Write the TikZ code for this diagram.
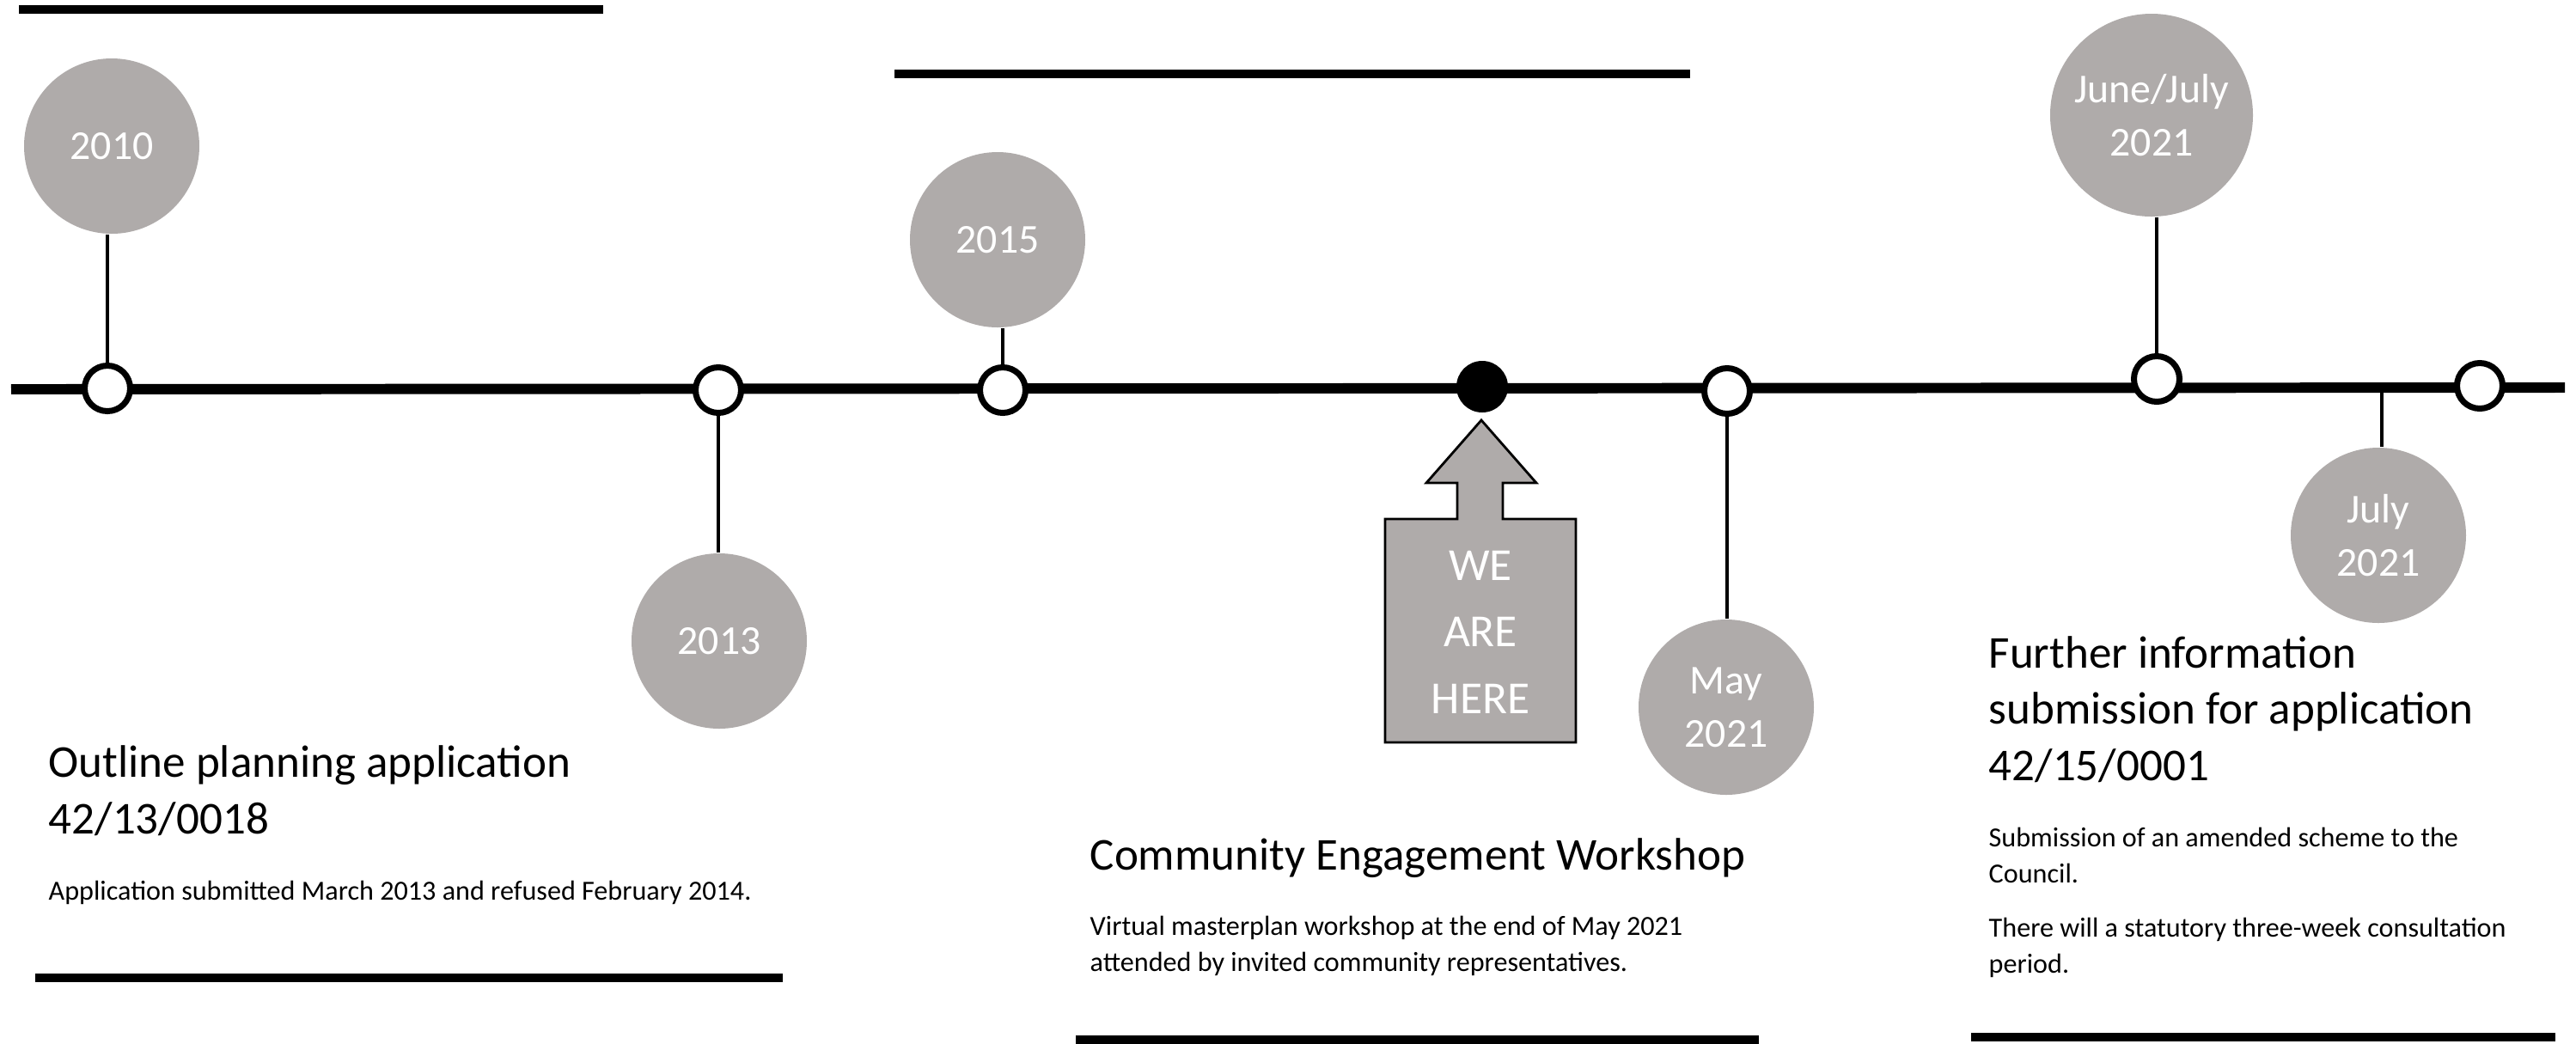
\documentclass[tikz,border=0pt]{standalone}
\usepackage{fontspec}
\setmainfont{Carlito}
\definecolor{bubblegray}{RGB}{175,171,170}

\begin{document}
\begin{tikzpicture}[scale=1]
 \tikzstyle{bubble}=[circle,fill=bubblegray,text=white,minimum size=2.04cm,inner sep=0pt,align=center,font=\fontsize{13.6}{17.6}\selectfont]
 \tikzstyle{ring}=[circle,draw,fill=white,line width=2pt,minimum size=0.53cm,inner sep=0pt]
 \tikzstyle{stem}=[line width=1.4pt]
 \tikzstyle{rule}=[line width=2.6pt]
 \tikzstyle{headtxt}=[anchor=base west,align=left,inner sep=0pt,font=\fontsize{15.1}{18.6}\selectfont]
 \tikzstyle{bodytxt}=[anchor=base west,align=left,inner sep=0pt,font=\fontsize{9.15}{11.9}\selectfont]
 \useasboundingbox (0,0) rectangle (29.98,-12.14);
 %
 \draw[rule] (0.22,-0.11) -- (7.02,-0.11);
 \draw[rule] (10.41,-0.86) -- (19.67,-0.86);
 \draw[rule] (0.41,-11.38) -- (9.11,-11.38);
 \draw[rule] (12.52,-12.10) -- (20.47,-12.10);
 \draw[rule] (22.94,-12.07) -- (29.74,-12.07);
 %
 \coordinate (lstart) at (0.13,-4.53);
 \coordinate (lend) at (29.85,-4.51);
 \coordinate (tJuly) at (27.72,-4.52);
 \draw[line width=3.4pt] (lstart) -- (lend);
 %
 \node[bubble] (y2010) at (1.30,-1.70) {2010};
 \node[bubble] (y2013) at (8.37,-7.46) {2013};
 \node[bubble] (y2015) at (11.61,-2.79) {2015};
 \node[bubble] (yMay) at (20.09,-8.23) {May\\2021};
 \node[bubble, minimum size=2.36cm] (yJune) at (25.04,-1.34) {June/July\\2021};
 \node[bubble] (yJuly) at (27.68,-6.23) {July\\2021};
 %
 \node[ring] (n2010) at (1.25,-4.52) {};
 \node[ring] (n2013) at (8.36,-4.54) {};
 \node[ring] (n2015) at (11.67,-4.54) {};
 \node[circle,fill=black,minimum size=0.60cm,inner sep=0pt] (here) at (17.25,-4.50) {};
 \node[ring] (nMay) at (20.10,-4.55) {};
 \node[ring] (nJune) at (25.10,-4.41) {};
 \node[ring] (nEnd) at (28.86,-4.49) {};
 %
 \draw[stem] (n2010)--(n2010 |- y2010.south);
 \draw[stem] (n2013)--(n2013 |- y2013.north);
 \draw[stem] (n2015)--(n2015 |- y2015.south);
 \draw[stem] (nMay)--(nMay |- yMay.north);
 \draw[stem] (nJune)--(nJune |- yJune.south);
 \draw[stem] (tJuly)--(tJuly |- yJuly.north);
 %
 \draw[fill=bubblegray,line width=0.8pt] (17.24,-4.89) -- (17.88,-5.62) -- (17.49,-5.62) -- (17.49,-6.04) -- (18.34,-6.04) -- (18.34,-8.64) -- (16.12,-8.64) -- (16.12,-6.04) -- (16.96,-6.04) -- (16.96,-5.62) -- (16.60,-5.62) -- cycle;
 \node[anchor=base,align=center,inner sep=0pt,text=white,font=\fontsize{15.2}{22}\selectfont] (weare) at (17.23,-8.30) {WE\\ARE\\HERE};
 %
 \node[headtxt] (t2013) at (0.56,-9.70) {Outline planning application\\42/13/0018};
 \node[bodytxt] (b2013) at (0.56,-10.47) {Application submitted March 2013 and refused February 2014.};
 \node[headtxt] (tMay) at (12.68,-10.12) {Community Engagement Workshop};
 \node[bodytxt] (bMay) at (12.68,-11.30) {Virtual masterplan workshop at the end of May 2021\\attended by invited community representatives.};
 \node[headtxt] (tJune) at (23.14,-9.08) {Further information\\submission for application\\42/15/0001};
 \node[bodytxt] (bJune) at (23.14,-10.27) {Submission of an amended scheme to the\\Council.};
 \node[bodytxt] (bJune2) at (23.14,-11.32) {There will a statutory three-week consultation\\period.};
\end{tikzpicture}
\end{document}
